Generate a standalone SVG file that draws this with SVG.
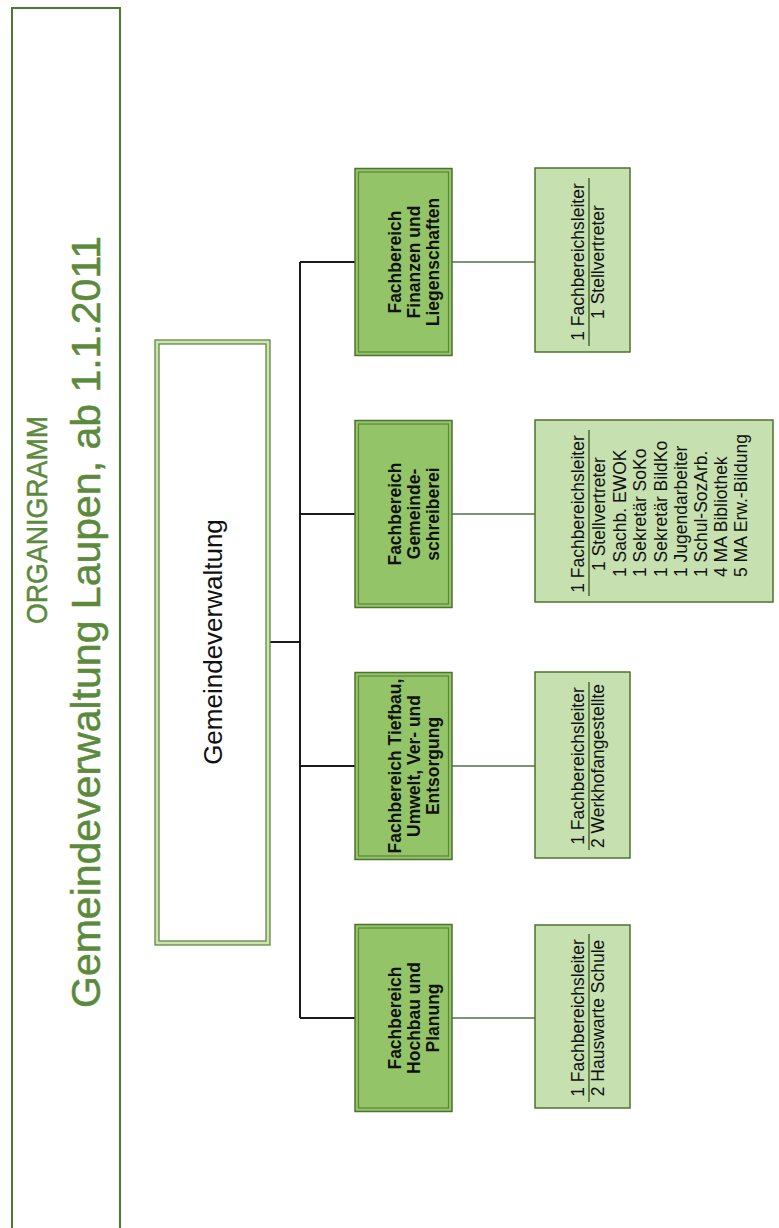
<svg xmlns="http://www.w3.org/2000/svg" width="779" height="1228" viewBox="0 0 779 1228">
<style>
  .title { font-family: "Liberation Sans", Arial, sans-serif; fill: #5b8a3c; stroke: #5b8a3c; stroke-width: 0.5; text-anchor: middle; }
  .gvtext { font-family: "Liberation Sans", Arial, sans-serif; font-size: 26px; fill: #111; text-anchor: middle; }
  .fb { font-family: "Liberation Sans", Arial, sans-serif; font-size: 17.5px; font-weight: bold; fill: #111; text-anchor: middle; }
  .st { font-family: "Liberation Sans", Arial, sans-serif; font-size: 17.5px; fill: #111; }
  .mid { text-anchor: middle; }
  .start { text-anchor: start; }
  .frame { fill: #ffffff; stroke: #4e7a2c; stroke-width: 2; }
  .gvband { fill: none; stroke: #cfe3b4; stroke-width: 4; }
  .gvline { fill: none; stroke: #5f8a3f; stroke-width: 1.3; }
  .fbbox { fill: #94c468; stroke: #4d7330; stroke-width: 1.5; }
  .fbinner { fill: none; stroke: #5c8638; stroke-width: 1.2; }
  .subbox { fill: #c6e0b0; stroke: #4d7330; stroke-width: 1.5; }
  .sep { stroke: #4a6a30; stroke-width: 1.5; }
  .spine { stroke: #1a1a1a; stroke-width: 2; fill: none; }
  .sub { stroke: #55704a; stroke-width: 1.5; fill: none; }
</style>
<rect width="779" height="1228" fill="#ffffff"/>
<g transform="translate(0,1228) rotate(-90)">
  <g id="title">
    <rect class="frame" x="-20" y="12" width="1240" height="108"/>
    <text class="title" x="708" y="47" font-size="29" textLength="208" lengthAdjust="spacingAndGlyphs">ORGANIGRAMM</text>
    <text class="title" x="606" y="100" font-size="41">Gemeindeverwaltung Laupen, ab 1.1.2011</text>
  </g>
  <g id="connectors">
    <path class="spine" d="M586,270 V300 M210,300 H966 M966,300 V355 M714,300 V355 M462,300 V355 M210,300 V355"/>
    <path class="sub" d="M966,452 V535 M714,452 V535 M462,452 V535 M210,452 V535"/>
  </g>
  <g id="gemeindeverwaltung">
    <rect x="283" y="155" width="605" height="115" fill="#ffffff"/>
    <rect class="gvband" x="285" y="157" width="601" height="111"/>
    <rect class="gvline" x="283" y="155" width="605" height="115"/>
    <rect class="gvline" x="287" y="159" width="597" height="107"/>
    <text class="gvtext" x="586" y="222">Gemeindeverwaltung</text>
  </g>
  <g id="fb-finanzen">
    <rect class="fbbox" x="872.5" y="355" width="187" height="97"/>
    <rect class="fbinner" x="876" y="358.5" width="180" height="90"/>
    <text class="fb" x="966" y="401">Fachbereich</text>
    <text class="fb" x="966" y="420">Finanzen und</text>
    <text class="fb" x="966" y="439">Liegenschaften</text>
  </g>
  <g id="fb-schreiberei">
    <rect class="fbbox" x="620.5" y="355" width="187" height="97"/>
    <rect class="fbinner" x="624" y="358.5" width="180" height="90"/>
    <text class="fb" x="714" y="401">Fachbereich</text>
    <text class="fb" x="714" y="420">Gemeinde-</text>
    <text class="fb" x="714" y="439">schreiberei</text>
  </g>
  <g id="fb-tiefbau">
    <rect class="fbbox" x="368.5" y="355" width="187" height="97"/>
    <rect class="fbinner" x="372" y="358.5" width="180" height="90"/>
    <text class="fb" x="462" y="401">Fachbereich Tiefbau,</text>
    <text class="fb" x="462" y="420">Umwelt, Ver- und</text>
    <text class="fb" x="462" y="439">Entsorgung</text>
  </g>
  <g id="fb-hochbau">
    <rect class="fbbox" x="116.5" y="355" width="187" height="97"/>
    <rect class="fbinner" x="120" y="358.5" width="180" height="90"/>
    <text class="fb" x="210" y="401">Fachbereich</text>
    <text class="fb" x="210" y="420">Hochbau und</text>
    <text class="fb" x="210" y="439">Planung</text>
  </g>
  <g id="st-finanzen">
    <rect class="subbox" x="876" y="535" width="184" height="95"/>
    <text class="st mid" x="966" y="584">1 Fachbereichsleiter</text>
    <line class="sep" x1="882" y1="589" x2="1050" y2="589"/>
    <text class="st mid" x="966" y="604">1 Stellvertreter</text>
  </g>
  <g id="st-schreiberei">
    <rect class="subbox" x="626" y="535" width="182" height="238"/>
    <text class="st mid" x="714" y="584">1 Fachbereichsleiter</text>
    <line class="sep" x1="632" y1="589" x2="798" y2="589"/>
    <text class="st mid" x="714" y="605">1 Stellvertreter</text>
    <text class="st start" x="651" y="626">1 Sachb. EWOK</text>
    <text class="st start" x="651" y="646">1 Sekretär SoKo</text>
    <text class="st start" x="651" y="667">1 Sekretär BildKo</text>
    <text class="st start" x="651" y="687">1 Jugendarbeiter</text>
    <text class="st start" x="651" y="707">1 Schul-SozArb.</text>
    <text class="st start" x="651" y="727">4 MA Bibliothek</text>
    <text class="st start" x="651" y="747">5 MA Erw.-Bildung</text>
  </g>
  <g id="st-tiefbau">
    <rect class="subbox" x="370" y="535" width="186" height="95"/>
    <text class="st mid" x="462" y="584">1 Fachbereichsleiter</text>
    <line class="sep" x1="378" y1="589" x2="546" y2="589"/>
    <text class="st mid" x="462" y="604">2 Werkhofangestellte</text>
  </g>
  <g id="st-hochbau">
    <rect class="subbox" x="120" y="535" width="183" height="95"/>
    <text class="st mid" x="210" y="584">1 Fachbereichsleiter</text>
    <line class="sep" x1="126" y1="589" x2="294" y2="589"/>
    <text class="st mid" x="210" y="604">2 Hauswarte Schule</text>
  </g>
</g>
</svg>
